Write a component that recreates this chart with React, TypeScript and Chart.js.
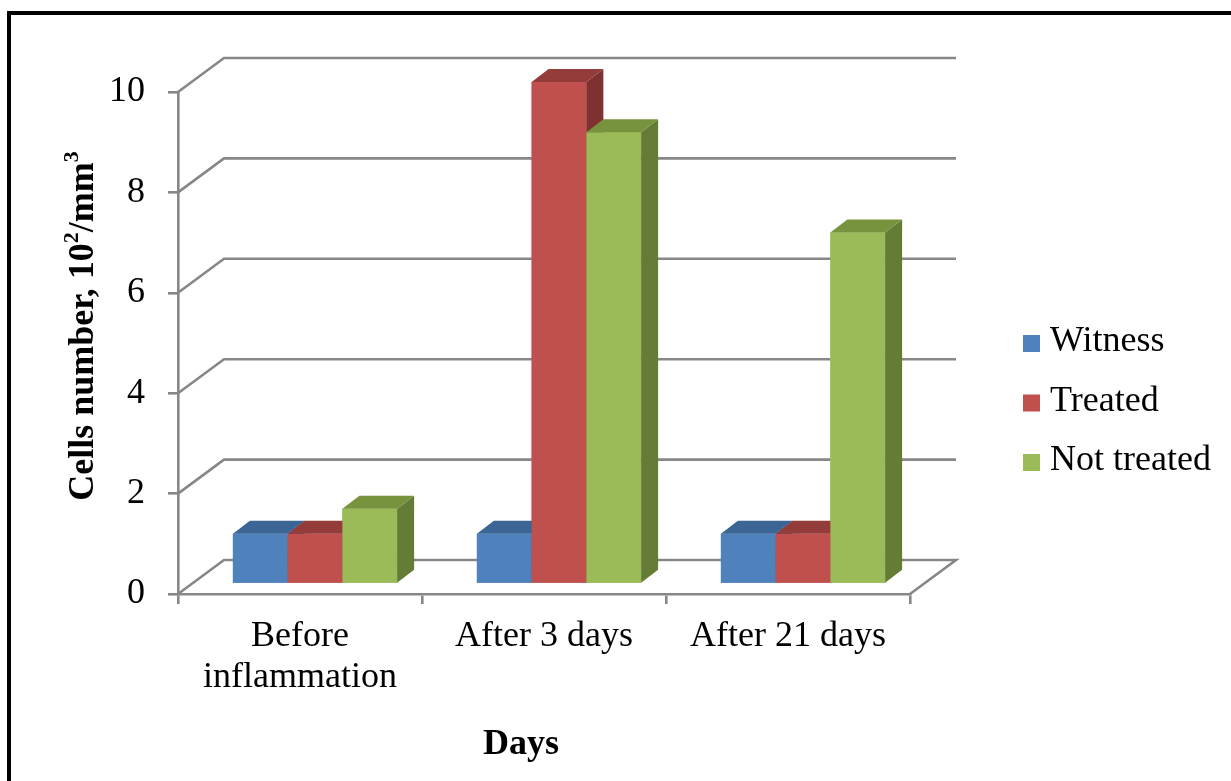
import React, { useEffect, useRef } from 'react';
import { Chart, registerables } from 'chart.js';

Chart.register(...registerables);

// Chart data
const categories: (string | string[])[] = [['Before', 'inflammation'], 'After 3 days', 'After 21 days'];
const seriesNames = ['Witness', 'Treated', 'Not treated'];
const witness = [1, 1, 1];
const treated = [1, 10, 1];
const notTreated = [1.5, 9, 7];
const yTicks = [0, 2, 4, 6, 8, 10];

// Face colours for the 3D boxes (front / top / right side)
const frontColors = ['#4F81BD', '#C0504D', '#9BBB59'];
const topColors = ['#3B6595', '#943C3A', '#77933D'];
const sideColors = ['#385D8A', '#7E312F', '#657C36'];

const GRID = '#878787';
const FONT = "'Liberation Serif', 'Times New Roman', serif";

// Projection offsets (pixels)
const WALL_DEPTH = { dx: 46, dy: -34 };
const BAR_PLANE = { dx: 15, dy: -10 };
const BAR_DEPTH = { dx: 17, dy: -13 };

const box3d = {
  id: 'box3d',
  beforeDatasetsDraw(chart: any) {
    const { ctx, chartArea, scales } = chart;
    const y = scales.y;
    ctx.save();
    ctx.strokeStyle = GRID;
    ctx.lineWidth = 2.6;
    ctx.lineJoin = 'miter';
    yTicks.forEach((v) => {
      const py = y.getPixelForValue(v);
      ctx.beginPath();
      ctx.moveTo(chartArea.left, py);
      ctx.lineTo(chartArea.left + WALL_DEPTH.dx, py + WALL_DEPTH.dy);
      ctx.lineTo(chartArea.right + WALL_DEPTH.dx, py + WALL_DEPTH.dy);
      if (v === 0) ctx.lineTo(chartArea.right, py);
      ctx.stroke();
    });
    ctx.restore();
    // bars sit on a plane part-way into the floor
    ctx.save();
    ctx.translate(BAR_PLANE.dx, BAR_PLANE.dy);
  },
  afterDatasetsDraw(chart: any) {
    const { ctx } = chart;
    const { dx, dy } = BAR_DEPTH;
    // paint boxes left to right inside each group so nearer boxes cover the sides of farther ones
    chart.data.datasets.forEach((_ds: any, i: number) => {
      const meta = chart.getDatasetMeta(i);
      meta.data.forEach((bar: any) => {
        const { x, y, base, width } = bar.getProps(['x', 'y', 'base', 'width'], true);
        const l = x - width / 2;
        const r = x + width / 2;
        // front
        ctx.fillStyle = frontColors[i];
        ctx.fillRect(l, y, r - l, base - y);
        // right side
        ctx.fillStyle = sideColors[i];
        ctx.beginPath();
        ctx.moveTo(r, y);
        ctx.lineTo(r, base);
        ctx.lineTo(r + dx, base + dy);
        ctx.lineTo(r + dx, y + dy);
        ctx.closePath();
        ctx.fill();
        // top
        ctx.fillStyle = topColors[i];
        ctx.beginPath();
        ctx.moveTo(l, y);
        ctx.lineTo(r, y);
        ctx.lineTo(r + dx, y + dy);
        ctx.lineTo(l + dx, y + dy);
        ctx.closePath();
        ctx.fill();
      });
    });
    ctx.restore();
  },
  afterDraw(chart: any) {
    const { ctx } = chart;
    ctx.save();
    // outer frame
    ctx.fillStyle = '#000';
    ctx.fillRect(7, 11, 1231, 4);
    ctx.fillRect(7, 11, 4, 781);

    // legend
    ctx.font = `36px ${FONT}`;
    ctx.textBaseline = 'middle';
    ctx.textAlign = 'left';
    chart.data.datasets.forEach((ds: any, k: number) => {
      const cy = 342 + k * 59.5;
      ctx.fillStyle = frontColors[k];
      ctx.fillRect(1023, cy - 7, 17, 17);
      ctx.fillStyle = '#000';
      ctx.fillText(ds.label, 1050, cy);
    });

    // x title
    ctx.font = `bold 36px ${FONT}`;
    ctx.textAlign = 'center';
    ctx.fillText('Days', 521, 745);

    // y title with superscripts
    ctx.translate(84, 326);
    ctx.rotate(-Math.PI / 2);
    const big = `bold 36px ${FONT}`;
    const small = `bold 22px ${FONT}`;
    const parts: [string, string, number][] = [
      ['Cells number, 10', big, 0],
      ['2', small, -12],
      ['/mm', big, 0],
      ['3', small, -12],
    ];
    let total = 0;
    parts.forEach(([t, f]) => {
      ctx.font = f;
      total += ctx.measureText(t).width;
    });
    let px = -total / 2;
    ctx.textAlign = 'left';
    parts.forEach(([t, f, off]) => {
      ctx.font = f;
      ctx.fillText(t, px, off);
      px += ctx.measureText(t).width;
    });
    ctx.restore();
  },
};

export default function App() {
  const ref = useRef<HTMLCanvasElement>(null);

  useEffect(() => {
    const series = [witness, treated, notTreated];
    const chart = new Chart(ref.current as HTMLCanvasElement, {
      type: 'bar',
      data: {
        labels: categories as any,
        datasets: series.map((values, k) => ({
          label: seriesNames[k],
          data: values,
          backgroundColor: frontColors[k],
          borderWidth: 0,
          categoryPercentage: 0.673,
          barPercentage: 1,
          clip: false as any,
        })),
      },
      options: {
        animation: false,
        responsive: false,
        devicePixelRatio: 1,
        events: [],
        layout: { padding: { left: 0, top: 92, right: 321, bottom: 0 } },
        plugins: {
          legend: { display: false },
          tooltip: { enabled: false },
        },
        scales: {
          x: {
            grid: {
              display: true,
              drawOnChartArea: false,
              drawTicks: true,
              tickLength: 10,
              color: GRID,
              lineWidth: 2.6,
            },
            border: { display: true, color: GRID, width: 2.6 },
            ticks: {
              color: '#000',
              padding: 12,
              maxRotation: 0,
              font: { family: FONT, size: 36, lineHeight: 1.14 },
            },
            afterFit: (scale: any) => {
              scale.height = 187;
            },
          },
          y: {
            min: 0,
            max: 10,
            afterBuildTicks: (axis: any) => {
              axis.ticks = yTicks.map((v) => ({ value: v }));
            },
            grid: {
              display: true,
              drawOnChartArea: false,
              drawTicks: true,
              tickLength: 10,
              color: GRID,
              lineWidth: 2.6,
            },
            border: { display: true, color: GRID, width: 2.6 },
            ticks: {
              color: '#000',
              padding: 23,
              font: { family: FONT, size: 36 },
            },
            afterFit: (scale: any) => {
              scale.width = 178;
            },
          },
        },
      },
      plugins: [box3d],
    });
    return () => chart.destroy();
  }, []);

  return (
    <div style={{ position: 'absolute', left: 0, top: 0, width: 1231, height: 781, background: '#fff' }}>
      <canvas ref={ref} width={1231} height={781} style={{ display: 'block', width: 1231, height: 781 }} />
    </div>
  );
}
